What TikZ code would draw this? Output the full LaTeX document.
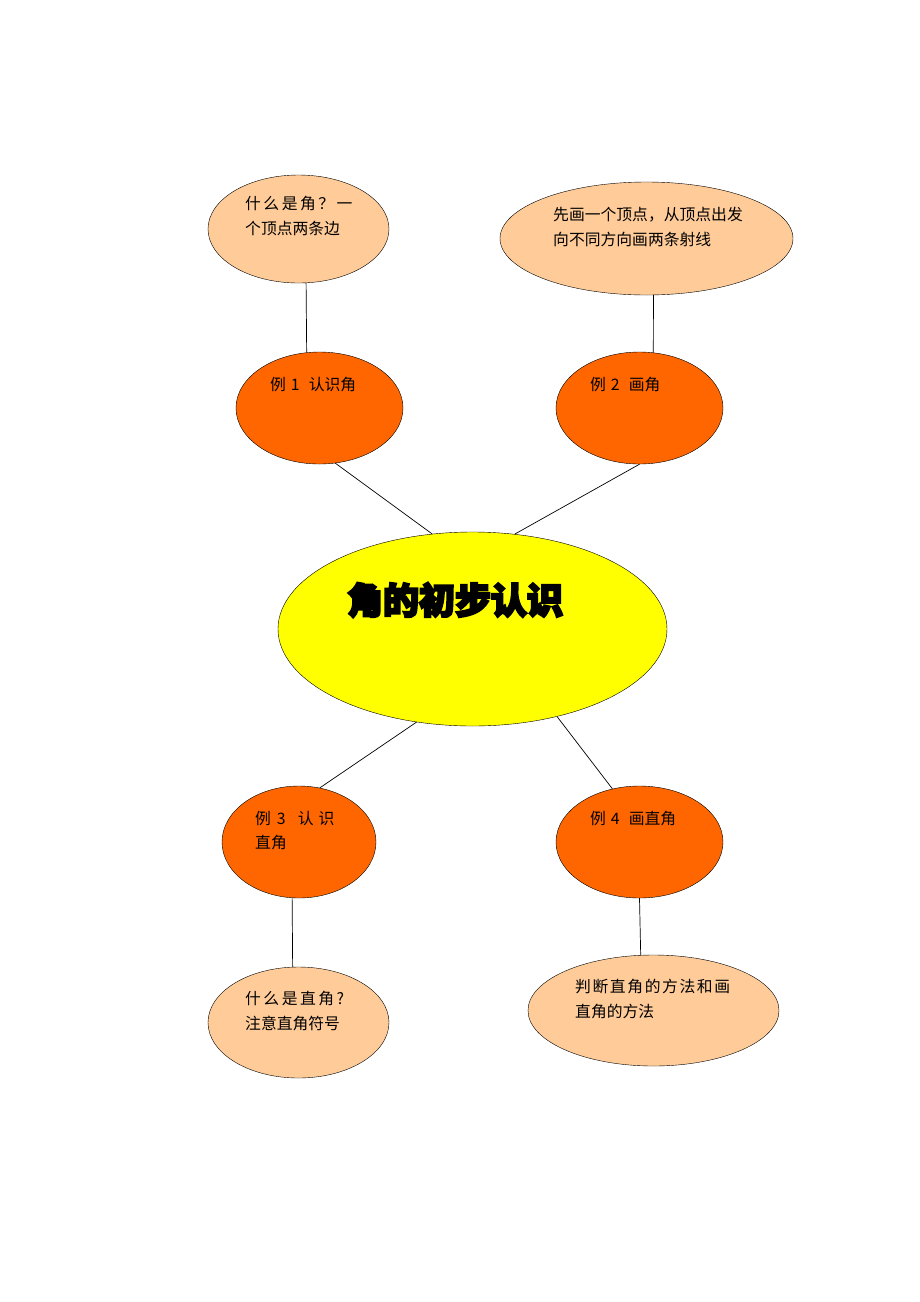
\documentclass[tikz,border=0pt]{standalone}
\usepackage{fontspec}
\setmainfont{Noto Sans CJK SC}
\newfontfamily\titlefont[FakeBold=6]{Noto Sans CJK SC}
\usetikzlibrary{shapes.geometric}

\definecolor{leafcol}{HTML}{FFCC99}
\definecolor{branchcol}{HTML}{FF6600}
\definecolor{hubcol}{HTML}{FFFF00}

\newcommand{\gap}{\hspace{2.5pt}}

\begin{document}
\begin{tikzpicture}[x=1pt, y=-1pt, font=\fontsize{15.8}{24.5}\selectfont]

    % --- STYLES ---
    \tikzstyle{leaf} = [ellipse, draw=black, fill=leafcol, inner sep=0pt]
    \tikzstyle{branch} = [ellipse, draw=black, fill=branchcol, inner sep=0pt]
    \tikzstyle{hub} = [ellipse, draw=black, fill=hubcol, inner sep=0pt]
    \tikzstyle{txt} = [inner sep=0pt, align=left, anchor=north west]
    \tikzstyle{link} = [draw=black, line width=0.7pt]

    % page frame
    \useasboundingbox (0,0) rectangle (920,1302);

    % --- CENTRE ---
    \node[hub, minimum width=389, minimum height=194] (hub) at (472.5,629) {};
    \node[inner sep=0pt] (title) at (455,600) {\titlefont\bfseries\fontsize{36}{36}\selectfont 角的初步认识};

    % --- EXAMPLES ---
    \node[branch, minimum width=167, minimum height=112] (ex1) at (319.5,408) {};
    \node[branch, minimum width=167, minimum height=112] (ex2) at (639.5,408) {};
    \node[branch, minimum width=154, minimum height=112] (ex3) at (299,842) {};
    \node[branch, minimum width=167, minimum height=112] (ex4) at (639.5,842) {};

    \node[txt] (t1) at (270,377) {例\hspace{5pt}1\hspace{9pt}认识角};
    \node[txt] (t2) at (590,377) {例\hspace{5pt}2\hspace{9pt}画角};
    \node[txt] (t3) at (255,811) {例\hspace{6pt}3\hspace{12pt}认\gap\gap 识\\直角};
    \node[txt] (t4) at (590,811) {例\hspace{5pt}4\hspace{9pt}画直角};

    % --- NOTES ---
    \node[leaf, minimum width=181, minimum height=108] (n1) at (298.5,229) {};
    \node[leaf, minimum width=293, minimum height=113] (n2) at (646.5,238.5) {};
    \node[leaf, minimum width=181, minimum height=111] (n3) at (298.5,1022.5) {};
    \node[leaf, minimum width=251, minimum height=111] (n4) at (653.5,1010.5) {};

    \node[txt] (tn1) at (245,196) {什\gap 么\gap 是\gap 角\gap ？\gap 一\\个顶点两条边};
    \node[txt] (tn2) at (553,207) {先画一个顶点，从顶点出发\\向不同方向画两条射线};
    \node[txt] (tn3) at (245,991) {什\gap 么\gap 是\gap 直\gap 角\gap ?\\注意直角符号};
    \node[txt] (tn4) at (575,979) {判\hspace{1.6pt}断\hspace{1.6pt}直\hspace{1.6pt}角\hspace{1.6pt}的\hspace{1.6pt}方\hspace{1.6pt}法\hspace{1.6pt}和\hspace{1.6pt}画\\直角的方法};

    % --- CONNECTIONS ---
    \draw[link] (n1.-82.1) -- (ex1.103.7);
    \draw[link] (n2.-83.4) -- (ex2.76.3);
    \draw[link] (ex1.-74.3) -- (hub.113.6);
    \draw[link] (ex2.-90) -- (hub.66.4);
    \draw[link] (hub.239.2) -- (ex3.69.7);
    \draw[link] (hub.-46.4) -- (ex4.117.5);
    \draw[link] (ex3.-97.2) -- (n3.96.7);
    \draw[link] (ex4.-90) -- (n4.103.7);

\end{tikzpicture}
\end{document}
